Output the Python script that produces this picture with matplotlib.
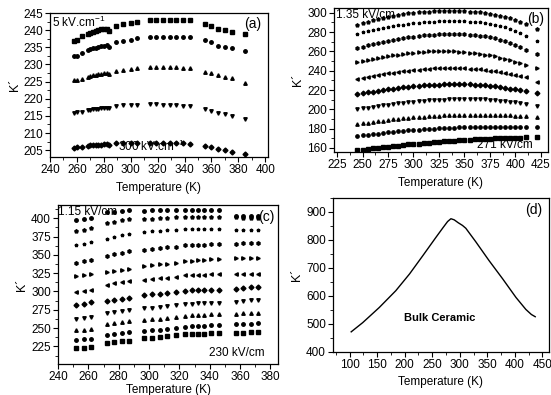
import matplotlib
matplotlib.use("Agg")
import matplotlib.pyplot as plt
from matplotlib.ticker import MultipleLocator

plt.rcParams['font.family'] = ['Liberation Sans', 'DejaVu Sans']
plt.rcParams['font.size'] = 8.5
plt.rcParams['mathtext.fontset'] = 'custom'
plt.rcParams['mathtext.rm'] = 'Liberation Sans'

# ---- panel (a): 5 field levels ----
a_temp = [258, 260, 264, 268, 270, 272, 274, 276, 278, 280, 282, 284, 289, 294, 300,
          305, 314, 319, 324, 329, 334, 339, 344, 355, 360, 365, 370, 375, 385]
a_sq = [236.9, 237.0, 238.2, 238.9, 239.2, 239.5, 239.8, 240.0, 240.2, 240.3, 240.4, 239.8,
        241.3, 241.7, 242.1, 242.4, 243.0, 243.0, 243.0, 243.0, 243.0, 242.9, 242.9,
        241.9, 241.3, 240.4, 239.9, 239.6, 238.9]
a_ci = [232.5, 232.6, 233.3, 234.1, 234.4, 234.7, 234.9, 235.1, 235.3, 235.5, 235.7, 235.2,
        236.5, 236.7, 237.2, 237.6, 238.1, 238.1, 238.1, 238.1, 238.1, 238.0, 238.0,
        237.0, 236.4, 235.5, 235.0, 234.7, 233.8]
a_up = [225.4, 225.5, 225.8, 226.4, 226.6, 226.8, 226.9, 227.1, 227.3, 227.4, 227.6, 227.3,
        228.2, 228.4, 228.7, 229.0, 229.3, 229.3, 229.3, 229.2, 229.2, 229.1, 229.1,
        227.9, 227.4, 226.9, 226.3, 226.0, 224.7]
a_dn = [215.9, 216.0, 216.2, 216.6, 216.8, 216.9, 217.0, 217.1, 217.2, 217.3, 217.4, 217.3,
        217.8, 218.1, 218.2, 218.2, 218.5, 218.4, 218.3, 218.2, 218.1, 218.0, 217.9,
        216.9, 216.5, 215.9, 215.4, 215.1, 214.0]
a_di = [205.7, 205.8, 205.9, 206.3, 206.4, 206.5, 206.5, 206.6, 206.6, 206.7, 206.7, 206.6,
        207.0, 207.1, 207.1, 207.1, 207.2, 207.2, 207.1, 207.1, 207.0, 207.0, 206.9,
        206.3, 206.0, 205.4, 205.0, 204.6, 203.8]
a_series = [a_sq, a_ci, a_up, a_dn, a_di]
a_markers = ['s', 'o', '^', 'v', 'D']

# ---- panel (b): 10 field levels (bottom -> top) ----
b_temp = [245, 250, 255, 260, 265, 270, 275, 280, 285, 290, 295, 300, 305, 310, 315, 320, 325,
          330, 335, 340, 345, 350, 355, 360, 365, 370, 375, 380, 385, 390, 395, 400, 405, 410, 421]
b_rows = [
    [157.6, 158.2, 158.8, 159.5, 160.1, 160.7, 161.3, 161.9, 162.5, 163.0, 163.6, 164.1, 164.6, 165.1,
     165.6, 166.0, 166.4, 166.8, 167.2, 167.6, 167.9, 168.3, 168.6, 168.9, 169.2, 169.5, 169.7, 170.0,
     170.2, 170.4, 170.6, 170.7, 170.8, 170.9, 171.5],
    [172.2, 172.9, 173.6, 174.3, 174.9, 175.5, 176.1, 176.6, 177.1, 177.6, 178.1, 178.5, 178.9, 179.3,
     179.6, 179.9, 180.2, 180.5, 180.8, 181.0, 181.2, 181.4, 181.6, 181.8, 181.9, 182.0, 182.1, 182.2,
     182.2, 182.2, 182.2, 182.1, 182.1, 182.0, 182.0],
    [184.7, 185.5, 186.3, 187.0, 187.7, 188.4, 189.0, 189.6, 190.2, 190.7, 191.2, 191.7, 192.1, 192.5,
     192.9, 193.2, 193.5, 193.8, 194.0, 194.2, 194.4, 194.5, 194.6, 194.6, 194.6, 194.5, 194.4, 194.3,
     194.1, 193.9, 193.7, 193.5, 193.3, 193.0, 192.4],
    [200.0, 200.9, 201.8, 202.6, 203.4, 204.2, 204.9, 205.6, 206.2, 206.8, 207.4, 207.9, 208.4, 208.8,
     209.2, 209.5, 209.8, 210.1, 210.3, 210.5, 210.6, 210.7, 210.7, 210.6, 210.5, 210.3, 210.0, 209.6,
     209.1, 208.5, 207.8, 207.1, 206.3, 205.5, 203.5],
    [215.6, 216.6, 217.5, 218.4, 219.2, 220.0, 220.8, 221.5, 222.2, 222.8, 223.4, 223.9, 224.4, 224.8,
     225.1, 225.4, 225.6, 225.8, 225.9, 226.0, 226.0, 225.9, 225.8, 225.6, 225.3, 224.9, 224.4, 223.8,
     223.1, 222.3, 221.5, 220.7, 220.0, 219.4, 217.4],
    [231.6, 232.7, 233.7, 234.7, 235.6, 236.5, 237.3, 238.1, 238.8, 239.5, 240.1, 240.7, 241.2, 241.7,
     242.1, 242.4, 242.6, 242.8, 242.9, 242.9, 242.8, 242.6, 242.3, 241.9, 241.4, 240.8, 240.1, 239.3,
     238.4, 237.4, 236.4, 235.3, 234.3, 233.3, 228.8],
    [249.0, 250.2, 251.3, 252.4, 253.4, 254.3, 255.2, 256.0, 256.8, 257.5, 258.2, 258.8, 259.3, 259.7,
     260.0, 260.2, 260.3, 260.3, 260.2, 260.0, 259.7, 259.3, 258.8, 258.2, 257.5, 256.7, 255.8, 254.8,
     253.6, 252.3, 250.8, 249.2, 247.6, 246.0, 242.7],
    [263.5, 265.0, 266.4, 267.7, 268.9, 270.0, 271.0, 272.0, 272.9, 273.8, 274.6, 275.3, 276.0, 276.6,
     277.1, 277.5, 277.8, 278.0, 278.1, 278.1, 278.0, 277.8, 277.4, 276.9, 276.3, 275.5, 274.6, 273.5,
     272.2, 270.7, 268.9, 266.8, 264.4, 261.8, 257.3],
    [278.5, 279.8, 281.0, 282.2, 283.3, 284.3, 285.2, 286.1, 286.9, 287.7, 288.4, 289.0, 289.6, 290.1,
     290.5, 290.9, 291.2, 291.4, 291.5, 291.5, 291.4, 291.2, 290.9, 290.5, 290.0, 289.3, 288.5, 287.5,
     286.3, 284.9, 283.2, 281.3, 279.0, 276.4, 270.5],
    [287.8, 289.5, 291.0, 292.4, 293.7, 294.9, 296.0, 297.0, 297.9, 298.7, 299.4, 300.0, 300.5, 300.9,
     301.2, 301.5, 301.7, 301.8, 301.9, 301.9, 301.8, 301.6, 301.3, 300.9, 300.4, 299.8, 299.0, 298.1,
     297.0, 295.7, 294.2, 292.4, 290.3, 288.0, 283.3],
]
b_markers = ['s', 'o', '^', 'v', 'D', '<', '>', 'h', '*', 'p']

# ---- panel (c): 11 field levels (bottom -> top) ----
c_temp = [252, 257, 262, 272, 277, 282, 287, 297, 302, 307, 312, 318, 324, 328, 332, 336,
          341, 346, 357, 362, 367, 372]
c_rows = [
    [222.5, 223, 224, 230, 231, 232, 233, 236, 237, 238, 239, 240, 241.5, 242, 242.5, 242.5, 243, 243,
     243, 243.5, 244, 244],
    [234, 235, 235.5, 241, 242, 243, 244, 246, 247, 248, 249, 250, 252, 252.5, 253, 253.5, 254, 254,
     255, 255.5, 256, 256.5],
    [247, 248, 249, 255, 256.5, 258, 259.5, 261, 262, 263, 264, 265, 267, 267.5, 268, 268.5, 269, 269,
     269, 270, 271, 271],
    [263, 264, 265.5, 271, 272.5, 273.5, 274.5, 277, 278, 279, 280, 281, 283, 283.5, 284, 284, 284.5,
     284.5, 286, 287, 288, 288],
    [282, 283.5, 285, 287, 288.5, 290, 291, 295, 296, 297, 298, 299, 301, 301.5, 302, 302, 302.5,
     302.5, 304, 305, 305.5, 306],
    [299, 300.5, 302, 309, 311, 312.5, 314, 316, 317, 318, 319, 320, 322, 322.5, 323, 323, 323.5,
     323.5, 324, 324.5, 324.5, 324.5],
    [321, 323, 324.5, 326, 327.5, 329, 330, 335, 336, 337, 338, 339, 341, 342, 343, 343.5, 344, 344,
     345, 345.5, 346, 346],
    [339, 341, 343, 349, 351, 353, 355, 357, 358, 359, 360, 361, 363, 363.5, 364, 364, 364.5, 364.5,
     365, 365.5, 365.5, 365.5],
    [363, 365, 367, 372, 374.5, 376.5, 378.5, 381, 382, 383, 383.5, 384, 385, 385, 385.5, 385.5,
     385.5, 385.5, 384, 384, 384, 384],
    [382, 384, 386, 393, 395, 397, 398.5, 399, 399.5, 400, 400.5, 401, 401.5, 401.5, 401.5, 401.5,
     401.5, 401.5, 401, 400.5, 400, 400],
    [397, 399, 400.5, 408, 409, 410, 411, 410, 410.5, 411, 411, 411, 411, 411, 411, 411, 410.5,
     410.5, 403.5, 403, 402.5, 402.5],
]
c_markers = ['s', 'o', '^', 'v', 'D', '<', '>', 'h', '*', 'p', 'o']

# ---- panel (d): bulk ceramic ----
d_temp = [103, 124, 154, 184, 209, 233, 257, 270, 278, 284, 290, 297, 305, 311, 320, 329,
          353, 378, 402, 420, 430, 437]
d_k = [472, 505, 559, 619, 679, 744, 810, 845, 866, 876, 872, 862, 852, 842, 818, 794,
       727, 661, 595, 552, 534, 526]

fig = plt.figure(figsize=(5.51, 3.95), dpi=100)
W, H = 551.0, 395.0


def make_axes(left, top, right, bottom):
    return fig.add_axes([left / W, 1 - bottom / H, (right - left) / W, (bottom - top) / H])


def style(ax, xmaj, xmin, ymaj, ymin, xpad=4):
    ax.xaxis.set_major_locator(MultipleLocator(xmaj))
    ax.xaxis.set_minor_locator(MultipleLocator(xmin))
    ax.yaxis.set_major_locator(MultipleLocator(ymaj))
    ax.yaxis.set_minor_locator(MultipleLocator(ymin))
    ax.tick_params(which='major', direction='out', length=3.5, width=0.8, pad=1.5, labelsize=8.5)
    ax.tick_params(which='minor', direction='out', length=2, width=0.6)
    for s in ax.spines.values():
        s.set_linewidth(0.9)
    ax.set_xlabel('Temperature (K)', fontsize=8.5, labelpad=xpad)
    ax.set_ylabel('K\u00b4', fontsize=9, labelpad=2)


ax_a = make_axes(50, 13, 268, 157)
for ys, m in zip(a_series, a_markers):
    ax_a.plot(a_temp, ys, linestyle='none', marker=m, ms=2.5, color='black', mec='black')
ax_a.set_xlim(240, 402)
ax_a.set_ylim(203, 245)
style(ax_a, 20, 10, 5, 2.5)
ax_a.text(0.01, 0.985, '5 kV.cm$^{-1}$', transform=ax_a.transAxes, ha='left', va='top', fontsize=8.5)
ax_a.text(0.97, 0.97, '(a)', transform=ax_a.transAxes, ha='right', va='top', fontsize=10)
ax_a.text(0.31, 0.02, '300 kV.cm$^{-1}$', transform=ax_a.transAxes, ha='left', va='bottom', fontsize=8.5)

ax_b = make_axes(334, 8, 548, 152)
for ys, m in zip(b_rows, b_markers):
    ax_b.plot(b_temp, ys, linestyle='none', marker=m, ms=2.4, color='black', mec='black')
ax_b.set_xlim(222, 432)
ax_b.set_ylim(155.8, 305)
style(ax_b, 25, 12.5, 20, 10)
ax_b.text(0.01, 0.99, '1.35 kV/cm', transform=ax_b.transAxes, ha='left', va='top', fontsize=8.5)
ax_b.text(0.98, 0.97, '(b)', transform=ax_b.transAxes, ha='right', va='top', fontsize=10)
ax_b.text(0.93, 0.01, '271 kV/cm', transform=ax_b.transAxes, ha='right', va='bottom', fontsize=8.5)

ax_c = make_axes(58, 205, 278, 364)
for ys, m in zip(c_rows, c_markers):
    ax_c.plot(c_temp, ys, linestyle='none', marker=m, ms=2.5, color='black', mec='black')
ax_c.set_xlim(240, 385)
ax_c.set_ylim(201, 418)
style(ax_c, 20, 10, 25, 12.5, xpad=1)
ax_c.text(0.0, 0.995, '1.15 kV/cm', transform=ax_c.transAxes, ha='left', va='top', fontsize=8.5)
ax_c.text(0.985, 0.97, '(c)', transform=ax_c.transAxes, ha='right', va='top', fontsize=10)
ax_c.text(0.94, 0.03, '230 kV/cm', transform=ax_c.transAxes, ha='right', va='bottom', fontsize=8.5)

ax_d = make_axes(333, 198, 549, 352)
ax_d.plot(d_temp, d_k, color='black', lw=1.0)
ax_d.set_xlim(70, 462)
ax_d.set_ylim(400, 950)
style(ax_d, 50, 25, 100, 50)
ax_d.text(0.97, 0.97, '(d)', transform=ax_d.transAxes, ha='right', va='top', fontsize=10)
ax_d.text(263, 520, 'Bulk Ceramic', ha='center', va='center', fontsize=8, fontweight='bold')

fig.savefig('out.png', dpi=100)
